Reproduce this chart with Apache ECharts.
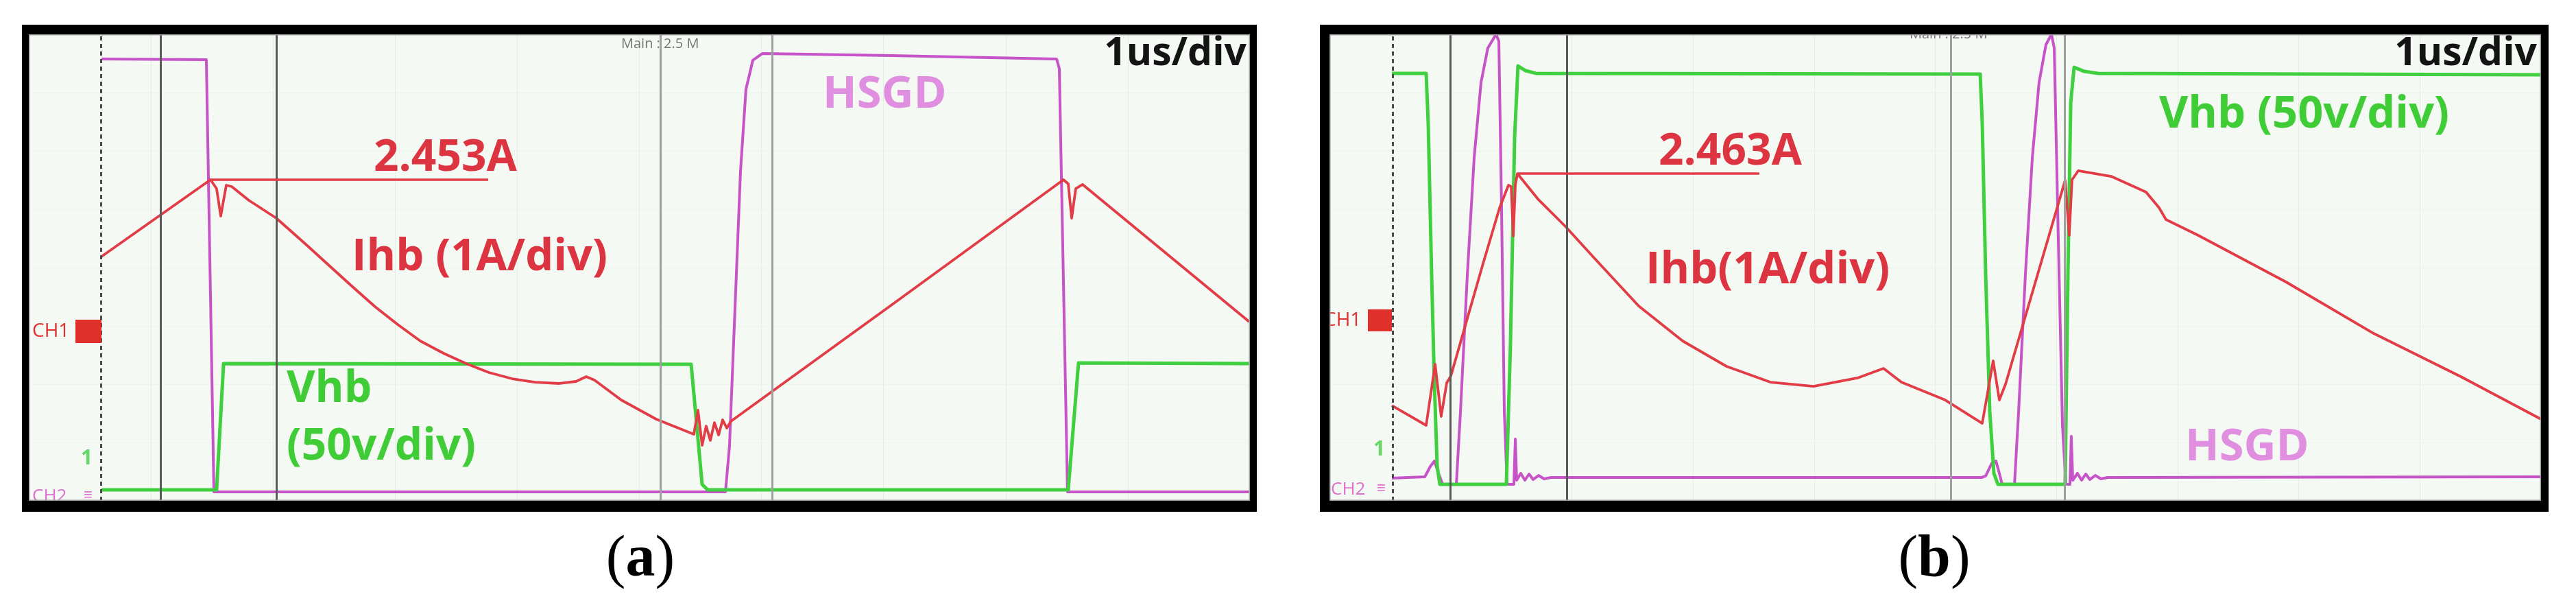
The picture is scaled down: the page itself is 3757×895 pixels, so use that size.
<!DOCTYPE html>
<html><head><meta charset="utf-8">
<script src="https://cdn.jsdelivr.net/npm/echarts@6/dist/echarts.min.js"></script>
<style>html,body{margin:0;padding:0;background:#fff}#c{width:3757px;height:895px}</style>
</head><body><div id="c"></div>
<script>
// ---------------- Panel (a) data (time in us, 1us/div) ----------------
const aIhbT = [0.595,1.488,1.538,1.572,1.617,1.662,1.802,2.027,2.274,2.459,2.645,2.835,3.021,3.206,3.397,3.582,3.768,3.958,4.144,4.346,4.481,4.565,4.632,4.851,5.138,5.446,5.480,5.514,5.547,5.581,5.615,5.649,5.682,5.716,5.750,7.108,8.473,8.512,8.540,8.574,8.630,9.994];
const aIhbA = [1.135,2.453,2.300,1.829,2.359,2.335,2.100,1.794,1.335,0.982,0.629,0.276,-0.029,-0.312,-0.524,-0.700,-0.853,-0.959,-1.018,-1.041,-1.006,-0.924,-0.982,-1.324,-1.653,-1.912,-1.500,-2.100,-1.771,-2.018,-1.712,-1.924,-1.665,-1.806,-1.688,0.371,2.453,2.382,1.794,2.300,2.371,0.018];
const aVhbT = [0.595,1.538,1.595,5.424,5.514,5.559,8.512,8.596,9.994];
const aVhbV = [0,0,108.2,107.6,4.7,0,0,108.8,108.2];
const aHsgdT = [0.595,1.454,1.516,5.705,5.738,5.783,5.828,5.873,5.929,6.008,7.063,8.417,8.439,8.506,9.994];
const aHsgdDiv = [7.576,7.565,0.153,0.153,0.941,3.294,5.647,7.059,7.553,7.671,7.635,7.576,7.412,0.153,0.153];
const aTrigger = 0.592;
const aCursorsDark = [1.084, 2.027];
const aCursorsLight = [5.166, 6.086];
const aPeak = {t: 1.488, end: 3.762, value: 2.453, label: '2.453A'};

// ---------------- Panel (b) data ----------------
const bIhbT = [0.515,0.798,0.872,0.922,0.968,1.002,1.138,1.268,1.404,1.477,1.500,1.517,1.534,1.551,1.720,1.947,2.190,2.552,2.915,3.277,3.639,3.995,4.358,4.573,4.720,5.082,5.388,5.478,5.529,5.580,6.072,6.106,6.129,6.180,6.452,6.740,6.848,6.904,7.170,7.895,8.619,9.338,10.0];
const bIhbA = [-1.513,-1.854,-0.807,-1.701,-1.125,-1.007,-0.019,0.922,1.875,2.264,2.240,1.393,2.264,2.463,2.028,1.558,1.005,0.193,-0.407,-0.842,-1.113,-1.184,-1.042,-0.878,-1.113,-1.419,-1.819,-0.748,-1.419,-1.148,2.346,1.405,2.358,2.511,2.416,2.146,1.875,1.675,1.405,0.605,-0.278,-1.019,-1.748];
const bVhbT = [0.515,0.798,0.815,0.843,0.866,0.889,0.911,1.460,1.494,1.528,1.556,1.619,1.703,5.371,5.388,5.416,5.450,5.484,5.518,6.072,6.095,6.118,6.146,6.231,6.344,10.0];
const bVhbV = [352.4,352.4,309.4,180.0,85.9,15.3,0,0,121.2,297.6,358.8,354.7,352.4,351.8,309.4,180.0,62.4,9.4,0,0,180.0,327.0,357.6,354.1,352.4,351.2];
const bHsgdT = [0.515,0.787,0.832,0.866,0.900,0.934,1.047,1.081,1.138,1.194,1.251,1.307,1.375,1.398,1.420,1.443,1.466,1.522,1.534,1.545,1.579,1.613,1.647,1.681,1.726,1.771,1.828,5.382,5.416,5.467,5.501,5.529,5.552,5.654,5.688,5.744,5.801,5.857,5.914,5.959,5.982,6.016,6.050,6.078,6.112,6.123,6.135,6.174,6.208,6.242,6.276,6.321,6.367,6.423,10.0];
const bHsgdDiv = [0.388,0.412,0.588,0.682,0.471,0.282,0.282,1.529,3.882,5.882,7.176,7.765,8.0,7.882,5.059,1.529,0.282,0.282,1.059,0.353,0.471,0.353,0.459,0.365,0.435,0.376,0.4,0.4,0.424,0.647,0.682,0.471,0.282,0.282,1.529,3.882,5.882,7.176,7.824,8.0,7.765,4.471,1.294,0.282,0.282,1.106,0.353,0.471,0.353,0.459,0.365,0.435,0.376,0.4,0.412];
const bTrigger = 0.521;
const bCursorsDark = [1.002, 1.964];
const bCursorsLight = [5.133, 6.072];
const bPeak = {t: 1.551, end: 3.548, value: 2.463, label: '2.463A'};

// ---------------- rendering ----------------
const RED = '#e23c46', GREEN = '#3fcf3f', MAG = '#c653c8';
const RED_TXT = '#dc3440', GREEN_TXT = '#3fcc36', MAG_TXT = '#e08fe0';
const SANS = '"Open Sans", "Noto Sans", sans-serif';
const SERIF = '"Liberation Serif", "DejaVu Serif", serif';

function zip(t, v) { return t.map((x, i) => [x, v[i]]); }

const chart = echarts.init(document.getElementById('c'), null, {renderer: 'canvas'});

const grids = [
  {left: 42, top: 50, width: 1781, height: 680, show: true, backgroundColor: '#f4f9f3', borderWidth: 0},
  {left: 1939, top: 50, width: 1767, height: 680, show: true, backgroundColor: '#f4f9f3', borderWidth: 0}
];
const xAxes = [0, 1].map(g => ({
  gridIndex: g, type: 'value', min: 0, max: 10, interval: 1,
  axisLine: {show: false}, axisTick: {show: false}, axisLabel: {show: false},
  splitLine: {show: true, lineStyle: {color: '#e5ede5', width: 1}}
}));
function hiddenY(g, min, max) {
  return {gridIndex: g, type: 'value', min: min, max: max, show: false, splitLine: {show: false}};
}
const yAxes = [
  {gridIndex: 0, type: 'value', min: 0, max: 8, interval: 1, axisLine: {show: false}, axisTick: {show: false}, axisLabel: {show: false}, splitLine: {show: true, lineStyle: {color: '#edf3ed', width: 1}}},
  hiddenY(0, -3.053, 4.947),   // Ihb (A), 1 A/div
  hiddenY(0, -9.4, 390.6),     // Vhb (V), 50 V/div
  {gridIndex: 1, type: 'value', min: 0, max: 8, interval: 1, axisLine: {show: false}, axisTick: {show: false}, axisLabel: {show: false}, splitLine: {show: true, lineStyle: {color: '#edf3ed', width: 1}}},
  hiddenY(1, -3.148, 4.852),
  hiddenY(1, -14.1, 385.9)
];

function cursorSeries(g, trig, dark, light) {
  const d = [{xAxis: trig, lineStyle: {type: [6, 5], color: '#4a4a4a', width: 3}}];
  dark.forEach(v => d.push({xAxis: v, lineStyle: {type: 'solid', color: '#5a5a5a', width: 3}}));
  light.forEach(v => d.push({xAxis: v, lineStyle: {type: 'solid', color: '#a0a0a0', width: 3}}));
  return {
    type: 'line', xAxisIndex: g, yAxisIndex: g * 3, data: [], z: 1, silent: true,
    markLine: {silent: true, symbol: ['none', 'none'], label: {show: false}, animation: false, data: d}
  };
}
function trace(g, yi, data, color, width, z, extra) {
  return Object.assign({
    type: 'line', xAxisIndex: g, yAxisIndex: yi, data: data, showSymbol: false, symbol: 'none',
    smooth: false, clip: true, silent: true, z: z,
    lineStyle: {color: color, width: width, join: 'round'}
  }, extra || {});
}
function peakLine(p) {
  return {silent: true, symbol: ['none', 'none'], label: {show: false}, animation: false,
    lineStyle: {color: RED, width: 3.5, type: 'solid'},
    data: [[{coord: [p.t, p.value]}, {coord: [p.end, p.value]}]]};
}

const series = [
  cursorSeries(0, aTrigger, aCursorsDark, aCursorsLight),
  trace(0, 0, zip(aHsgdT, aHsgdDiv), MAG, 4, 2),
  trace(0, 2, zip(aVhbT, aVhbV), GREEN, 5, 3),
  trace(0, 1, zip(aIhbT, aIhbA), RED, 3.8, 4, {markLine: peakLine(aPeak)}),
  cursorSeries(1, bTrigger, bCursorsDark, bCursorsLight),
  trace(1, 3, zip(bHsgdT, bHsgdDiv), MAG, 4, 2),
  trace(1, 5, zip(bVhbT, bVhbV), GREEN, 5, 3),
  trace(1, 4, zip(bIhbT, bIhbA), RED, 3.8, 4, {markLine: peakLine(bPeak)})
];

function txt(text, x, y, size, color, o) {
  o = o || {};
  return {type: 'text', x: x, y: y, z: o.z || 50, silent: true,
    style: {text: text, fill: color, fontSize: size, fontFamily: o.family || SANS,
      fontWeight: o.weight || 'bold', align: o.align || 'left', textAlign: o.align || 'left',
      verticalAlign: 'middle', textVerticalAlign: 'middle'}};
}
function rect(x, y, w, h, fill, z) {
  return {type: 'rect', z: z || 100, silent: true, shape: {x: x, y: y, width: w, height: h}, style: {fill: fill}};
}
function frame(o, inner) {
  const [x0, y0, x1, y1] = o, [ix0, iy0, ix1, iy1] = inner;
  return [
    {type: 'rect', z: 99, silent: true, shape: {x: ix0 + 0.5, y: iy0 + 0.5, width: ix1 - ix0 - 1, height: iy1 - iy0 - 1}, style: {fill: 'none', stroke: '#9c9c9c', lineWidth: 2}},
    rect(x0, y0, x1 - x0, iy0 - y0, '#000'),
    rect(x0, iy1, x1 - x0, y1 - iy1, '#000'),
    rect(x0, y0, ix0 - x0, y1 - y0, '#000'),
    rect(ix1, y0, x1 - ix1, y1 - y0, '#000')
  ];
}
function caption(letter, cx) {
  return {type: 'text', x: cx, y: 817, z: 50, silent: true,
    style: {text: '{n|(}{b|' + letter + '}{n|)}', align: 'center', textAlign: 'center', verticalAlign: 'middle', textVerticalAlign: 'middle',
      rich: {n: {fontFamily: SERIF, fontSize: 86, fill: '#000'}, b: {fontFamily: SERIF, fontSize: 86, fontWeight: 'bold', fill: '#000'}}}};
}

const graphics = [].concat(
  // panel (a) annotations
  txt(aPeak.label, 545, 231, 64, RED_TXT),
  txt('Ihb (1A/div)', 513, 375, 65, RED_TXT),
  txt('Vhb', 418, 568, 64, GREEN_TXT),
  txt('(50v/div)', 418, 652, 64, GREEN_TXT),
  txt('HSGD', 1200, 138, 65, MAG_TXT),
  txt('1us/div', 1818, 79, 57, '#141414', {align: 'right'}),
  txt('Main : 2.5 M', 906, 64, 20, '#757575', {weight: 'normal'}),
  txt('CH1', 47, 483, 28, '#e03030', {weight: 'normal'}),
  rect(110, 466, 38, 34, '#e0302c', 60),
  txt('1', 118, 668, 30, '#66d866'),
  txt('CH2', 47, 724, 26, '#e070d0', {weight: 'normal'}),
  txt('\u2261', 122, 722, 22, '#e070d0', {weight: 'normal'}),
  // panel (b) annotations
  txt(bPeak.label, 2419, 222, 64, RED_TXT),
  txt('Ihb(1A/div)', 2400, 394, 65, RED_TXT),
  txt('Vhb (50v/div)', 3149, 167, 65, GREEN_TXT),
  txt('HSGD', 3187, 652, 65, MAG_TXT),
  txt('1us/div', 3700, 79, 57, '#141414', {align: 'right'}),
  txt('Main : 2.5 M', 2785, 50, 20, '#757575', {weight: 'normal'}),
  txt('CH1', 1931, 467, 28, '#e03030', {weight: 'normal'}),
  rect(1995, 451, 35, 32, '#e0302c', 60),
  txt('1', 2003, 655, 30, '#66d866'),
  txt('CH2', 1941, 714, 26, '#e070d0', {weight: 'normal'}),
  txt('\u2261', 2008, 712, 22, '#e070d0', {weight: 'normal'}),
  // frames
  frame([32, 36, 1833, 746], [42, 50, 1823, 730]),
  frame([1925, 36, 3717, 746], [1939, 50, 3706, 730]),
  // captions
  caption('a', 934),
  caption('b', 2821)
);

chart.setOption({
  animation: false,
  backgroundColor: '#ffffff',
  grid: grids,
  xAxis: xAxes,
  yAxis: yAxes,
  series: series,
  graphic: {elements: graphics}
});
</script>
</body></html>
